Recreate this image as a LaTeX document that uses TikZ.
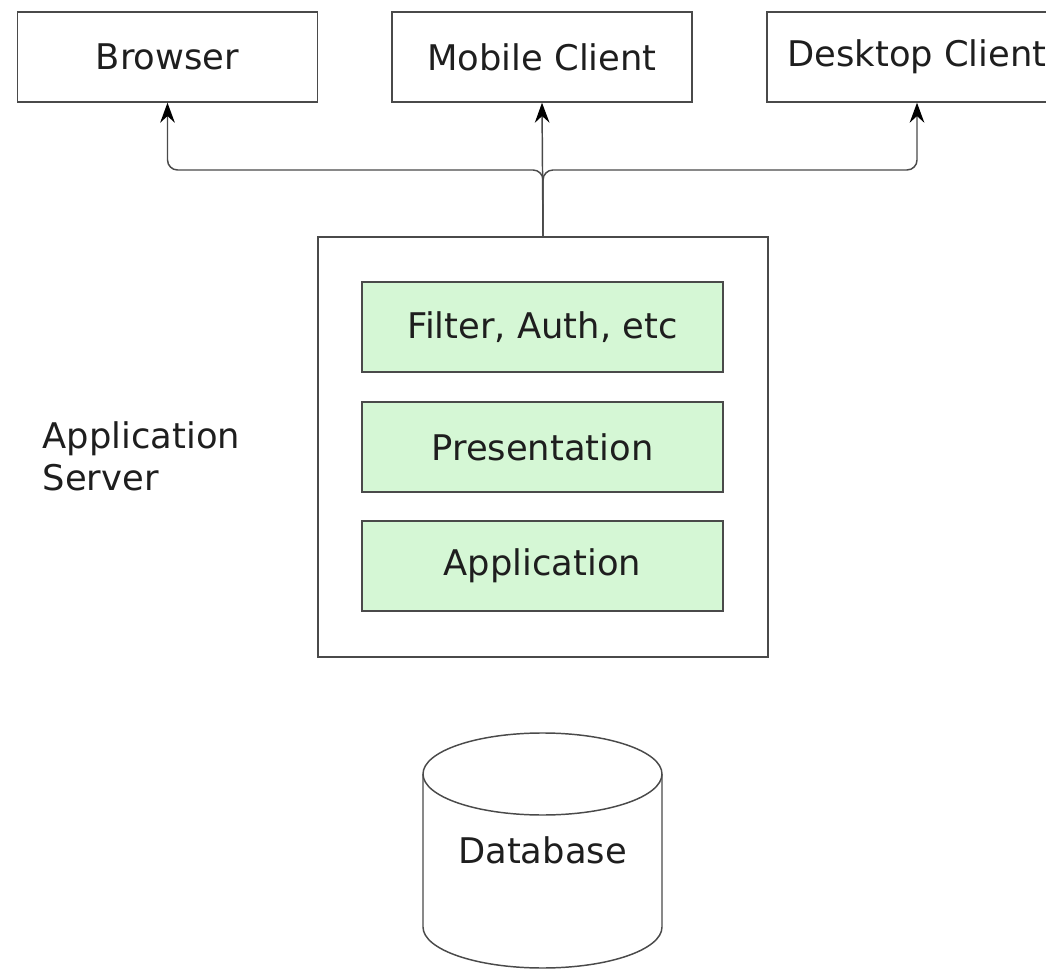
\documentclass[tikz,border=0pt]{standalone}
\usepackage{fontspec}
\setmainfont{DejaVu Sans}
\usetikzlibrary{arrows.meta}
\definecolor{edge}{HTML}{4A4A4A}
\definecolor{ink}{HTML}{1E1E1E}
\definecolor{layer}{HTML}{D5F7D5}
\begin{document}
\begin{tikzpicture}[x=0.75pt,y=-0.75pt,
  every node/.style={font=\fontsize{26.5pt}{31.5pt}\selectfont, text=ink},
  client/.style={draw=edge, line width=1.1pt, minimum width=225pt, minimum height=67.5pt, inner sep=0pt},
  layerbox/.style={draw=edge, fill=layer, line width=1.1pt, minimum width=270.75pt, minimum height=67.5pt, inner sep=0pt},
  link/.style={draw=edge, line width=1.1pt, rounded corners=7.5pt},
  tip/.style={-{Stealth[length=15pt,width=11pt,inset=5pt,color=black]}}
]
\useasboundingbox (0,0) rectangle (1046,969);
\begin{scope}
\clip (0,0) rectangle (1046,969);

% client tier
\node[client] (browser) at (167.5,57) {Browser};
\node[client] (mobile)  at (542,57) {Mobile Client};
\node[client] (desktop) at (917,57) {Desktop Client};

% application server with its layers
\node[draw=edge, line width=1.1pt, minimum width=337.5pt, minimum height=315pt, inner sep=0pt] (server) at (543,447) {};
\node[layerbox] (filter) at (542.5,327) {Filter, Auth, etc};
\node[layerbox] (pres)   at (542.5,447) {Presentation};
\node[layerbox] (app)    at (542.5,566) {Application};
\node[anchor=west, align=left] (srvlabel) at (38,456) {Application\\Server};

% fan-out from the server to the clients
\coordinate (bus) at (server.north |- 0,170);
\draw[link, tip] (server.north) -- (bus) -- (bus -| browser.south) -- (browser.south);
\draw[link, tip] (server.north) -- (bus) -- (bus -| desktop.south) -- (desktop.south);
\draw[link, tip] (server.north) -- (mobile.south);

% database cylinder
\draw[edge, line width=1.1pt, fill=white]
  (423,774) -- (423,927) arc[start angle=180, end angle=360, x radius=89.625pt, y radius=30.75pt] -- (662,774);
\draw[edge, line width=1.1pt] (542.5,774) ellipse[x radius=89.625pt, y radius=30.75pt];
\node (db) at (542.5,850) {Database};
\end{scope}
\end{tikzpicture}
\end{document}
